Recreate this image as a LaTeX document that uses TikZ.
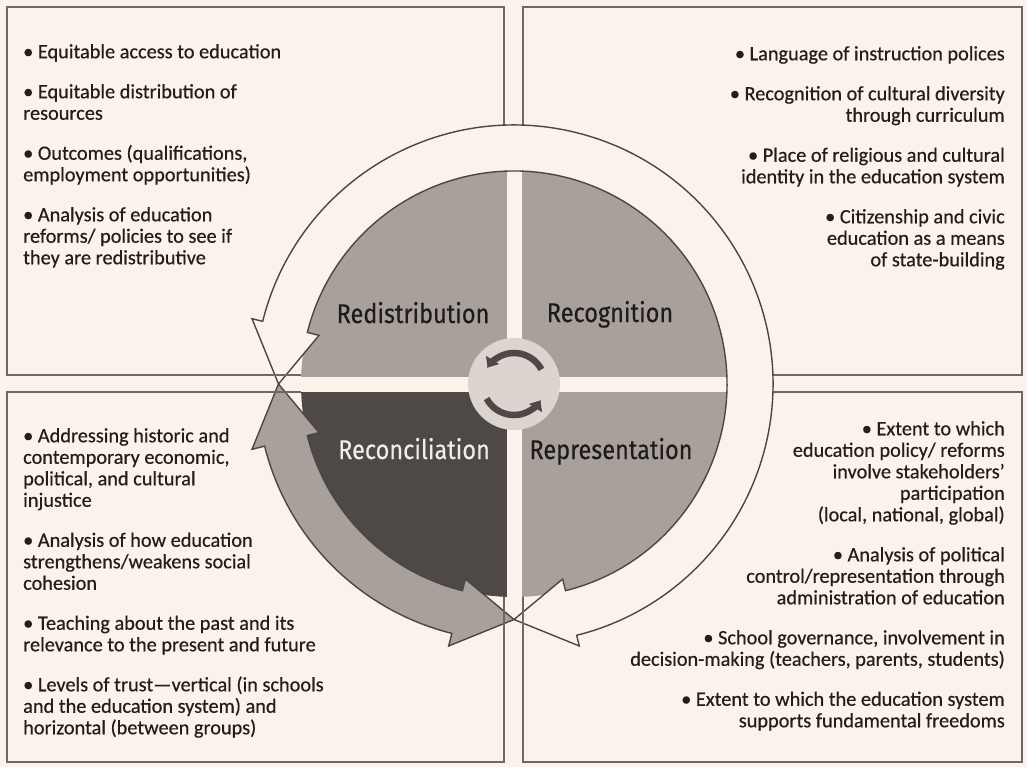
\documentclass[tikz,border=0pt]{standalone}
\usepackage{fontspec}
\setmainfont[FakeBold=0.5]{Carlito}
\newfontfamily\labelfont[FakeStretch=0.87,FakeBold=0.3]{Fira Sans}
\usetikzlibrary{arrows.meta}
\definecolor{bg}{HTML}{FBF3EB}
\definecolor{boxc}{HTML}{6E6864}
\definecolor{piec}{HTML}{A8A09B}
\definecolor{darkq}{HTML}{4E4946}
\definecolor{hubc}{HTML}{DCD5CF}
\definecolor{linec}{HTML}{4A4643}
\definecolor{txtc}{HTML}{221E1C}
\definecolor{lblc}{HTML}{1E1B1A}
\definecolor{lblw}{HTML}{F2EDE8}
\tikzset{
  boxline/.style={draw=boxc, line width=1.5pt},
  bandarrow/.style={fill=bg, draw=linec, line width=1.4pt, line join=miter},
  grayarrow/.style={fill=piec, draw=linec, line width=1.4pt, line join=miter},
  iconarc/.style={draw=darkq, line width=6.5pt, -{Triangle[width=15pt,length=9pt]}},
  lbl/.style={anchor=base, inner sep=0pt, text=lblc, font=\labelfont\fontsize{27}{31}\selectfont},
  bullets/.style={inner sep=0pt, text=txtc, font=\fontsize{20.3}{21.5}\selectfont}
}
\begin{document}
\begin{tikzpicture}[x=1pt,y=-1pt]
\useasboundingbox (0,0) rectangle (1027,767);
\fill[bg] (0,0) rectangle (1027,767);
% boxes
\draw[boxline] (7,7) rectangle (504,375);
\draw[boxline] (523,7) rectangle (1022,375);
\draw[boxline] (7,392) rectangle (504,762);
\draw[boxline] (523,392) rectangle (1022,762);
% circle diagram
\begin{scope}[shift={(514,384)}]
  \fill[piec] (0pt,0pt) -- (90:213pt) arc[start angle=90,end angle=180,radius=213pt] -- cycle;
  \fill[piec] (0pt,0pt) -- (0:213pt) arc[start angle=0,end angle=90,radius=213pt] -- cycle;
  \fill[piec] (0pt,0pt) -- (270:213pt) arc[start angle=270,end angle=360,radius=213pt] -- cycle;
  \fill[darkq] (0pt,0pt) -- (180:213pt) arc[start angle=180,end angle=270,radius=213pt] -- cycle;
  \fill[bg] (-7.5pt,-214pt) rectangle (7.5pt,214pt);
  \fill[bg] (-214pt,-7.5pt) rectangle (214pt,7.5pt);
  \fill[hubc] (0pt,0pt) circle[radius=46pt];
  \draw[iconarc] (28:31pt) arc[start angle=28,end angle=148,radius=31pt];
  \draw[iconarc] (208:31pt) arc[start angle=208,end angle=328,radius=31pt];
  % white double arrow
  \filldraw[bandarrow] (-76:213pt) arc[start angle=-76,end angle=166,radius=213pt]
    -- (166:201pt) -- (180:235.5pt) -- (166:270pt) -- (166:259pt)
    arc[start angle=166,end angle=-76,radius=259pt]
    -- (-76:270pt) -- (-90:235.5pt) -- (-76:201pt) -- cycle;
  % gray double arrow
  \filldraw[grayarrow] (194:213pt) arc[start angle=194,end angle=256,radius=213pt]
    -- (256:201pt) -- (270:235.5pt) -- (256:270pt) -- (256:257pt)
    arc[start angle=256,end angle=194,radius=257pt]
    -- (194:270pt) -- (180:235.5pt) -- (194:201pt) -- cycle;
\end{scope}
% box border pieces visible through the arrow tips
\draw[boxline] (240,375) -- (301,375);
\draw[boxline] (240,392) -- (301,392);
\draw[boxline] (504,597) -- (504,665);
\draw[boxline] (523,597) -- (523,665);
% quadrant labels
\node[lbl] (redis) at (413,323) {Redistribution};
\node[lbl] (recog) at (610,322) {Recognition};
\node[lbl, text=lblw] (recon) at (414,459) {Reconciliation};
\node[lbl] (repre) at (611,459) {Representation};
% texts
\node[bullets, anchor=north west, align=left] (tl) at (23,43) {\strut• Equitable access to education\\[18.5pt]
• Equitable distribution of\\resources\\[18.5pt]
• Outcomes (qualifications,\\employment opportunities)\\[18.5pt]
• Analysis of education\\reforms/ policies to see if\\they are redistributive};
\node[bullets, anchor=north east, align=right] (tr) at (1005,45) {\strut• Language of instruction polices\\[18.5pt]
• Recognition of cultural diversity\\through curriculum\\[18.5pt]
• Place of religious and cultural\\identity in the education system\\[18.5pt]
• Citizenship and civic\\education as a means\\of state-building};
\node[bullets, anchor=north west, align=left] (bl) at (23,427) {\strut• Addressing historic and\\contemporary economic,\\political, and cultural\\injustice\\[18.5pt]
• Analysis of how education\\strengthens/weakens social\\cohesion\\[18.5pt]
• Teaching about the past and its\\relevance to the present and future\\[18.5pt]
• Levels of trust—vertical (in schools\\and the education system) and\\horizontal (between groups)};
\node[bullets, anchor=north east, align=right] (br) at (1005,420) {\strut• Extent to which\\education policy/ reforms\\involve stakeholders'\\participation\\(local, national, global)\\[18.5pt]
• Analysis of political\\control/representation through\\administration of education\\[18.5pt]
• School governance, involvement in\\decision-making (teachers, parents, students)\\[18.5pt]
• Extent to which the education system\\supports fundamental freedoms};
\end{tikzpicture}
\end{document}
